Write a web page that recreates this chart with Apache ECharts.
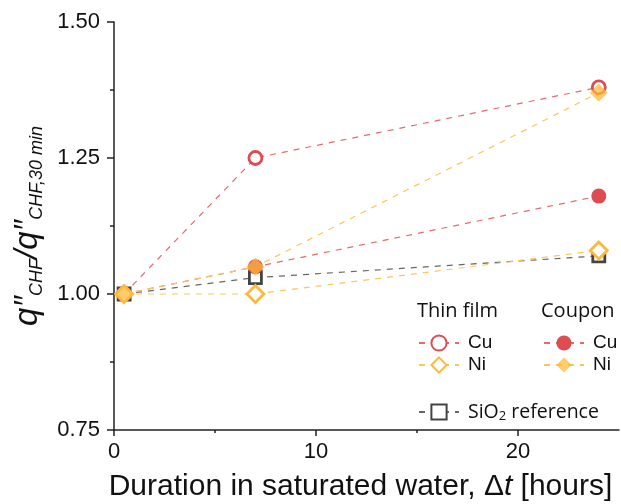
<!DOCTYPE html>
<html>
<head>
<meta charset="utf-8">
<script src="https://cdn.jsdelivr.net/npm/echarts@6/dist/echarts.min.js"></script>
<style>html,body{margin:0;padding:0;background:#fff}#c{width:621px;height:504px}</style>
</head>
<body>
<div id="c"></div>
<script>
const hours = [0.5, 7, 24];
const thinCu = [1.00, 1.25, 1.38];
const thinNi = [1.00, 1.00, 1.08];
const couponCu = [1.00, 1.05, 1.18];
const couponNi = [1.00, 1.05, 1.37];
const sio2 = [1.00, 1.03, 1.07];
const xTicks = [0, 10, 20];
const xMinorTicks = [5, 15];

const RED = '#dc4c50', RED_LINE = '#e56a6a';
const YEL = '#fdb93c', YEL_LINE = '#fcc65e';
const GRAY = '#444444', GRAY_LINE = '#666666';

function pts(arr) { return hours.map((h, i) => [h, arr[i]]); }
const dash = [6, 6];

const chart = echarts.init(document.getElementById('c'), null, {renderer: 'canvas'});
const labelName = {
  'Thin Cu': 'Cu', 'Thin Ni': 'Ni', 'Coupon Cu': 'Cu', 'Coupon Ni': 'Ni',
  'SiO2': '{t|SiO}{sub|2}{t| reference}'
};
const legendText = {
  fontFamily: 'Liberation Sans, Arial', fontSize: 19, color: '#111', lineHeight: 22,
  padding: [0, 0, 0, 4],
  rich: {
    t: {fontFamily: 'Open Sans', fontSize: 19.5, color: '#111'},
    sub: {fontFamily: 'Open Sans', fontSize: 13, color: '#111', verticalAlign: 'bottom', lineHeight: 17}
  }
};
const legendBase = {
  orient: 'vertical', itemWidth: 40, itemHeight: 19, itemGap: 0,
  formatter: n => labelName[n], textStyle: legendText, selectedMode: false
};

chart.setOption({
  animation: false,
  grid: {left: 114, right: 2, top: 22, bottom: 74, containLabel: false, outerBoundsMode: 'none'},
  xAxis: [{
    type: 'value', min: 0, max: 25,
    name: '{a|Duration in saturated water, Δ}{i|t}{a| [hours]}',
    nameLocation: 'middle', nameGap: 42,
    nameTextStyle: {
      padding: [0, 12, 0, 0],
      rich: {
        a: {fontFamily: 'Liberation Sans, Arial', fontSize: 30, color: '#111'},
        i: {fontFamily: 'Liberation Sans, Arial', fontSize: 30, fontStyle: 'italic', color: '#111'}
      }
    },
    axisLine: {show: true, lineStyle: {color: '#222', width: 1.5}},
    axisTick: {show: true, inside: false, length: 6, customValues: xTicks, lineStyle: {color: '#222', width: 1.5}},
    axisLabel: {show: true, customValues: xTicks, margin: 11, fontFamily: 'Liberation Sans, Arial', fontSize: 22, color: '#111'},
    splitLine: {show: false}
  }, {
    type: 'value', min: 0, max: 25, position: 'bottom',
    axisLine: {show: false},
    axisTick: {show: true, inside: false, length: 3, customValues: xMinorTicks, lineStyle: {color: '#222', width: 1.5}},
    axisLabel: {show: false},
    splitLine: {show: false}
  }],
  yAxis: {
    type: 'value', min: 0.75, max: 1.5, interval: 0.25,
    name: '{q|q″}{s|CHF}{q|/q″}{s|CHF,30 min}',
    nameLocation: 'middle', nameGap: 66, nameRotate: 90,
    nameTextStyle: {
      rich: {
        q: {fontFamily: 'Liberation Sans, Arial', fontSize: 33, fontStyle: 'italic', color: '#111', lineHeight: 36},
        s: {fontFamily: 'Liberation Sans, Arial', fontSize: 18, fontStyle: 'italic', color: '#111', verticalAlign: 'bottom', lineHeight: 30}
      }
    },
    axisLine: {show: true, lineStyle: {color: '#222', width: 1.5}},
    axisTick: {show: true, inside: false, length: 7, lineStyle: {color: '#222', width: 1.5}},
    minorTick: {show: true, splitNumber: 2, length: 4, lineStyle: {color: '#222', width: 1.5}},
    axisLabel: {margin: 14, fontFamily: 'Liberation Sans, Arial', fontSize: 22, color: '#111',
      formatter: v => v.toFixed(2)},
    splitLine: {show: false}
  },
  legend: [
    Object.assign({left: 413, top: 327, data: ['Thin Cu', 'Thin Ni']}, legendBase),
    Object.assign({left: 538, top: 327, data: ['Coupon Cu', 'Coupon Ni']}, legendBase),
    Object.assign({left: 413, top: 396, data: ['SiO2']}, legendBase)
  ],
  graphic: [
    {type: 'text', left: 417, top: 301, style: {text: 'Thin film', fontFamily: 'Open Sans', fontSize: 20, fill: '#111'}},
    {type: 'text', left: 541, top: 301, style: {text: 'Coupon', fontFamily: 'Open Sans', fontSize: 20, fill: '#111'}}
  ],
  series: [
    {name: 'SiO2', type: 'line', data: pts(sio2), symbol: 'rect', symbolSize: 12,
      lineStyle: {color: GRAY_LINE, width: 1.2, type: dash},
      itemStyle: {color: '#fff', borderColor: GRAY, borderWidth: 2.8}},
    {name: 'Thin Cu', type: 'line', data: pts(thinCu), symbol: 'circle', symbolSize: 13,
      lineStyle: {color: RED_LINE, width: 1.2, type: dash},
      itemStyle: {color: '#fff', borderColor: RED, borderWidth: 2.8}},
    {name: 'Coupon Cu', type: 'line', data: pts(couponCu), symbol: 'circle', symbolSize: 15,
      lineStyle: {color: RED_LINE, width: 1.2, type: dash},
      itemStyle: {color: RED, borderColor: RED, borderWidth: 0}},
    {name: 'Thin Ni', type: 'line', data: pts(thinNi), symbol: 'diamond', symbolSize: 17,
      lineStyle: {color: YEL_LINE, width: 1.2, type: dash},
      itemStyle: {color: '#fff', borderColor: YEL, borderWidth: 2.8}},
    {name: 'Coupon Ni', type: 'line', data: pts(couponNi), symbol: 'diamond', symbolSize: 18,
      lineStyle: {color: YEL_LINE, width: 1.2, type: dash},
      itemStyle: {color: YEL, borderColor: YEL, borderWidth: 0, opacity: 0.75}}
  ]
});
</script>
</body>
</html>
